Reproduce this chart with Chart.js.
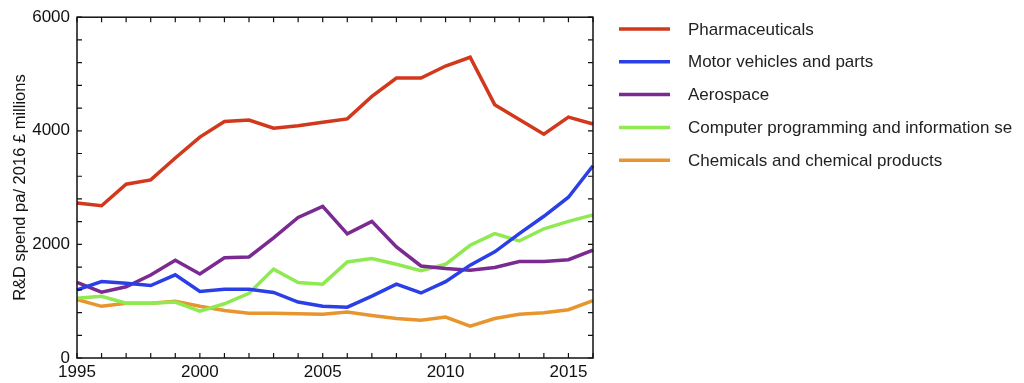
<!DOCTYPE html>
<html>
<head>
<meta charset="utf-8">
<script src="https://cdn.jsdelivr.net/npm/chart.js@4"></script>
<style>
  html, body { margin: 0; padding: 0; background: #fff; }
  #wrap { width: 1024px; height: 383px; }
</style>
</head>
<body>
<div id="wrap"><canvas id="myChart" width="1024" height="383"></canvas></div>
<script>
const years = ['1995','1996','1997','1998','1999','2000','2001','2002','2003','2004','2005',
  '2006','2007','2008','2009','2010','2011','2012','2013','2014','2015','2016'];
const pharma = [2730, 2680, 3060, 3135, 3520, 3890, 4165, 4190, 4045, 4090, 4150,
  4210, 4605, 4930, 4930, 5140, 5295, 4460, 4200, 3940, 4240, 4120];
const motor = [1200, 1345, 1315, 1275, 1465, 1170, 1210, 1210, 1155, 985, 910,
  895, 1090, 1300, 1145, 1345, 1635, 1870, 2190, 2495, 2830, 3385];
const aero = [1330, 1160, 1255, 1460, 1720, 1480, 1765, 1780, 2115, 2475, 2670,
  2185, 2405, 1955, 1620, 1575, 1545, 1595, 1700, 1700, 1730, 1900];
const computer = [1050, 1085, 965, 965, 985, 825, 955, 1140, 1565, 1330, 1300,
  1690, 1750, 1650, 1535, 1650, 1985, 2190, 2060, 2275, 2405, 2520];
const chemicals = [1030, 910, 965, 965, 1000, 910, 835, 790, 790, 780, 770,
  810, 750, 695, 665, 720, 560, 695, 770, 795, 850, 1010];
// legend text as it appears (the last-but-one name is cut off in the original)
const seriesNames = ['Pharmaceuticals', 'Motor vehicles and parts', 'Aerospace',
  'Computer programming and information se', 'Chemicals and chemical products'];
const seriesColors = ['#d2381c', '#2b3fe6', '#7a2a90', '#8eea50', '#e8952f'];
const yLabels = [0, 2000, 4000, 6000];
const xLabels = ['1995', '2000', '2005', '2010', '2015'];

const FONT = '"Liberation Sans", Arial, sans-serif';

// frame with inward ticks on all four sides, plus the side legend
const frameAndLegend = {
  id: 'frameAndLegend',
  afterDraw(chart) {
    const { ctx, chartArea: a, scales } = chart;
    ctx.save();
    ctx.strokeStyle = '#111';
    ctx.lineWidth = 1.5;
    ctx.strokeRect(a.left, a.top, a.right - a.left, a.bottom - a.top);
    ctx.lineWidth = 1.2;
    const tl = 5;
    scales.x.ticks.forEach((t, i) => {
      const px = scales.x.getPixelForTick(i);
      ctx.beginPath();
      ctx.moveTo(px, a.bottom); ctx.lineTo(px, a.bottom - tl);
      ctx.moveTo(px, a.top); ctx.lineTo(px, a.top + tl);
      ctx.stroke();
    });
    scales.y.ticks.forEach((t) => {
      const py = scales.y.getPixelForValue(t.value);
      ctx.beginPath();
      ctx.moveTo(a.left, py); ctx.lineTo(a.left + tl, py);
      ctx.moveTo(a.right, py); ctx.lineTo(a.right - tl, py);
      ctx.stroke();
    });
    // legend
    ctx.font = '17px ' + FONT;
    ctx.textBaseline = 'middle';
    ctx.fillStyle = '#222';
    chart.data.datasets.forEach((ds, i) => {
      const y = 29 + i * 32.8;
      ctx.strokeStyle = ds.borderColor;
      ctx.lineWidth = 3.5;
      ctx.beginPath();
      ctx.moveTo(619, y); ctx.lineTo(670, y);
      ctx.stroke();
      ctx.fillText(ds.label, 688, y + 1);
    });
    ctx.restore();
  }
};

const ctx = document.getElementById('myChart');

new Chart(ctx, {
  type: 'line',
  data: {
    labels: years,
    datasets: [pharma, motor, aero, computer, chemicals].map((vals, i) => ({
      label: seriesNames[i],
      data: vals,
      borderColor: seriesColors[i],
      backgroundColor: seriesColors[i],
      borderWidth: 3.5,
      pointRadius: 0,
      tension: 0,
      fill: false,
    })),
  },
  plugins: [frameAndLegend],
  options: {
    responsive: false,
    animation: false,
    layout: { padding: { top: 14, right: 431, left: 0, bottom: 0 } },
    plugins: {
      legend: { display: false },
      tooltip: { enabled: false },
    },
    scales: {
      x: {
        type: 'category',
        offset: false,
        grid: { display: false, drawTicks: false },
        border: { display: false },
        ticks: {
          autoSkip: false,
          maxRotation: 0,
          padding: 4,
          color: '#111',
          font: { size: 17, family: FONT },
          callback: function (v) {
            const lab = this.getLabelForValue(v);
            return xLabels.includes(lab) ? lab : '';
          },
        },
        afterFit(scale) { scale.height = 25; },
      },
      y: {
        min: 0,
        max: 6000,
        grid: { display: false, drawTicks: false },
        border: { display: false },
        ticks: {
          stepSize: 400,
          autoSkip: false,
          padding: 7,
          color: '#111',
          font: { size: 17, family: FONT },
          callback: (v) => (yLabels.includes(v) ? String(v) : ''),
        },
        title: {
          display: true,
          text: 'R&D spend pa/ 2016 £ millions',
          color: '#111',
          font: { size: 16.5, family: FONT },
          padding: { top: 11, bottom: 0 },
        },
        afterFit(scale) { scale.width = 77; },
      },
    },
  },
});
</script>
</body>
</html>
